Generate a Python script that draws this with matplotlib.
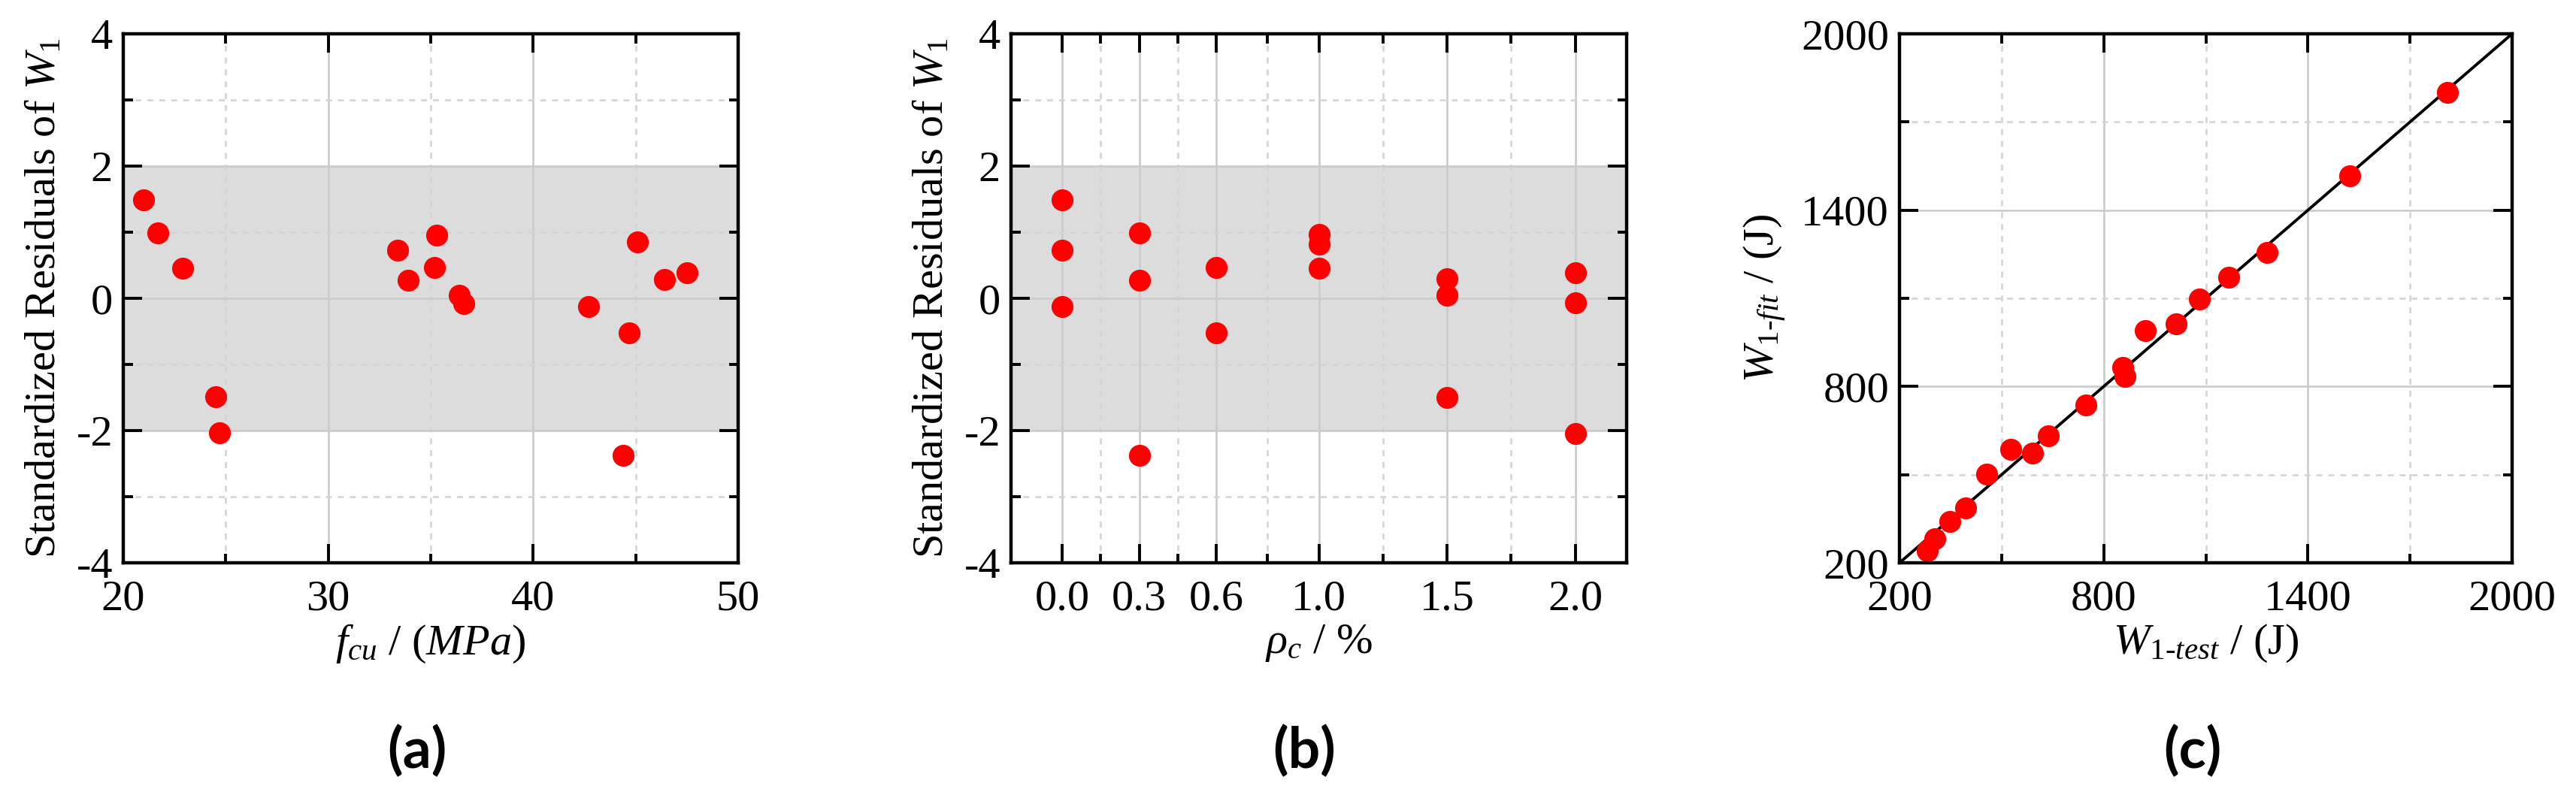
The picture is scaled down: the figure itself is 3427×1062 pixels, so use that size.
import matplotlib
matplotlib.use("Agg")
import matplotlib.pyplot as plt
from matplotlib.ticker import FixedLocator, FixedFormatter

# ---------------- data ----------------
fcu = [21.0, 21.7, 22.9, 24.5, 24.7, 33.4, 33.9, 35.2, 35.3, 36.4, 36.6,
       42.7, 44.4, 44.7, 45.1, 46.4, 47.5]
res_a = [1.49, 0.99, 0.46, -1.49, -2.03, 0.73, 0.27, 0.47, 0.96, 0.05, -0.08,
         -0.13, -2.38, -0.52, 0.85, 0.28, 0.39]

rho_c = [0.0, 0.0, 0.0, 0.3, 0.3, 0.3, 0.6, 0.6, 1.0, 1.0, 1.0,
         1.5, 1.5, 1.5, 2.0, 2.0, 2.0]
res_b = [1.49, 0.73, -0.13, 0.99, 0.27, -2.38, 0.47, -0.52, 0.97, 0.82, 0.45,
         0.29, 0.04, -1.50, 0.39, -0.07, -2.04]

w_test = [281, 303, 347, 395, 457, 526, 591, 637, 748, 855, 862, 923, 1012,
          1081, 1167, 1279, 1523, 1809]
w_fit = [242, 281, 340, 387, 502, 585, 574, 631, 736, 866, 834, 991, 1014,
         1098, 1171, 1256, 1517, 1800]
fit_line = [200, 2000]

res_band = [-2, 2]

a_xmajor = [20, 30, 40, 50]
a_xminor = [25, 35, 45]
res_ymajor = [-4, -2, 0, 2, 4]
res_yminor = [-3, -1, 1, 3]
b_xmajor = [0.0, 0.3, 0.6, 1.0, 1.5, 2.0]
b_xlabels = ["0.0", "0.3", "0.6", "1.0", "1.5", "2.0"]
b_xminor = [0.15, 0.45, 0.8, 1.25, 1.75]
c_major = [200, 800, 1400, 2000]
c_minor = [500, 1100, 1700]

# ---------------- style ----------------
plt.rcParams['font.family'] = ['Liberation Serif', 'DejaVu Serif']
plt.rcParams['mathtext.fontset'] = 'custom'
plt.rcParams['mathtext.rm'] = 'Liberation Serif'
plt.rcParams['mathtext.it'] = 'Liberation Serif:italic'
plt.rcParams['mathtext.bf'] = 'Liberation Serif:bold'
plt.rcParams['axes.unicode_minus'] = False

FS = 42
RED = '#FF0000'
MAJ_GRID = '#CBCBCB'
MIN_GRID = '#D4D4D4'
BAND = '#DCDCDC'

fig = plt.figure(figsize=(34.27, 10.62), dpi=100)
W, H = 3427.0, 1062.0
bottom = 1 - 749 / H
height = (749 - 45) / H
ax_a = fig.add_axes([164 / W, bottom, 818 / W, height])
ax_b = fig.add_axes([1345 / W, bottom, 819 / W, height])
ax_c = fig.add_axes([2527 / W, bottom, 815 / W, height])


def style_axes(ax, xmaj, xmin, ymaj, ymin):
    ax.xaxis.set_major_locator(FixedLocator(xmaj))
    ax.xaxis.set_minor_locator(FixedLocator(xmin))
    ax.yaxis.set_major_locator(FixedLocator(ymaj))
    ax.yaxis.set_minor_locator(FixedLocator(ymin))
    ax.set_axisbelow(True)
    ax.grid(True, which='major', color=MAJ_GRID, lw=1.9, ls='-')
    ax.grid(True, which='minor', color=MIN_GRID, lw=1.9, ls=(0, (3, 3)))
    ax.tick_params(which='both', direction='in', top=True, right=True,
                   labelsize=FS, width=2.8)
    ax.tick_params(which='major', length=18)
    ax.tick_params(which='minor', length=9)
    ax.tick_params(axis='x', which='major', pad=16)
    ax.tick_params(axis='y', which='major', pad=10)
    for s in ax.spines.values():
        s.set_linewidth(3.2)
        s.set_zorder(5)


# ---- (a)
ax = ax_a
ax.axhspan(res_band[0], res_band[1], color=BAND, zorder=0.5, lw=0)
ax.plot(fcu, res_a, 'o', color=RED, ms=21, mec='none', zorder=3)
ax.set_xlim(20, 50)
ax.set_ylim(-4, 4)
style_axes(ax, a_xmajor, a_xminor, res_ymajor, res_yminor)
ax.set_xlabel(r'$f_{cu}$ / $\mathit{(MPa)}$', fontsize=FS, labelpad=4)
ax.set_ylabel(r'Standardized Residuals of $W_{\mathit{1}}$', fontsize=FS, labelpad=12)

# ---- (b)
ax = ax_b
ax.axhspan(res_band[0], res_band[1], color=BAND, zorder=0.5, lw=0)
ax.plot(rho_c, res_b, 'o', color=RED, ms=21, mec='none', zorder=3)
ax.set_xlim(-0.2, 2.2)
ax.set_ylim(-4, 4)
style_axes(ax, b_xmajor, b_xminor, res_ymajor, res_yminor)
ax.xaxis.set_major_formatter(FixedFormatter(b_xlabels))
ax.set_xlabel(r'$\rho_{c}$ / %', fontsize=FS, labelpad=4)
ax.set_ylabel(r'Standardized Residuals of $W_{\mathit{1}}$', fontsize=FS, labelpad=12)

# ---- (c)
ax = ax_c
ax.plot(fit_line, fit_line, '-', color='black', lw=2.8, zorder=2)
ax.plot(w_test, w_fit, 'o', color=RED, ms=21, mec='none', zorder=3)
ax.set_xlim(200, 2000)
ax.set_ylim(200, 2000)
style_axes(ax, c_major, c_minor, c_major, c_minor)
ax.set_xlabel(r'$W_{1\text{-}test}$ / (J)', fontsize=FS, labelpad=4)
ax.set_ylabel(r'$W_{1\text{-}fit}$ / (J)', fontsize=FS, labelpad=12)

# ---- panel letters
for xc, lab in [(555, '(a)'), (1735, '(b)'), (2917, '(c)')]:
    fig.text(xc / W, 1 - 1000 / H, lab, ha='center', va='center',
             fontsize=54, fontweight='bold', family=['Lato', 'DejaVu Sans'])

fig.savefig('out.png', dpi=100, facecolor='white')
